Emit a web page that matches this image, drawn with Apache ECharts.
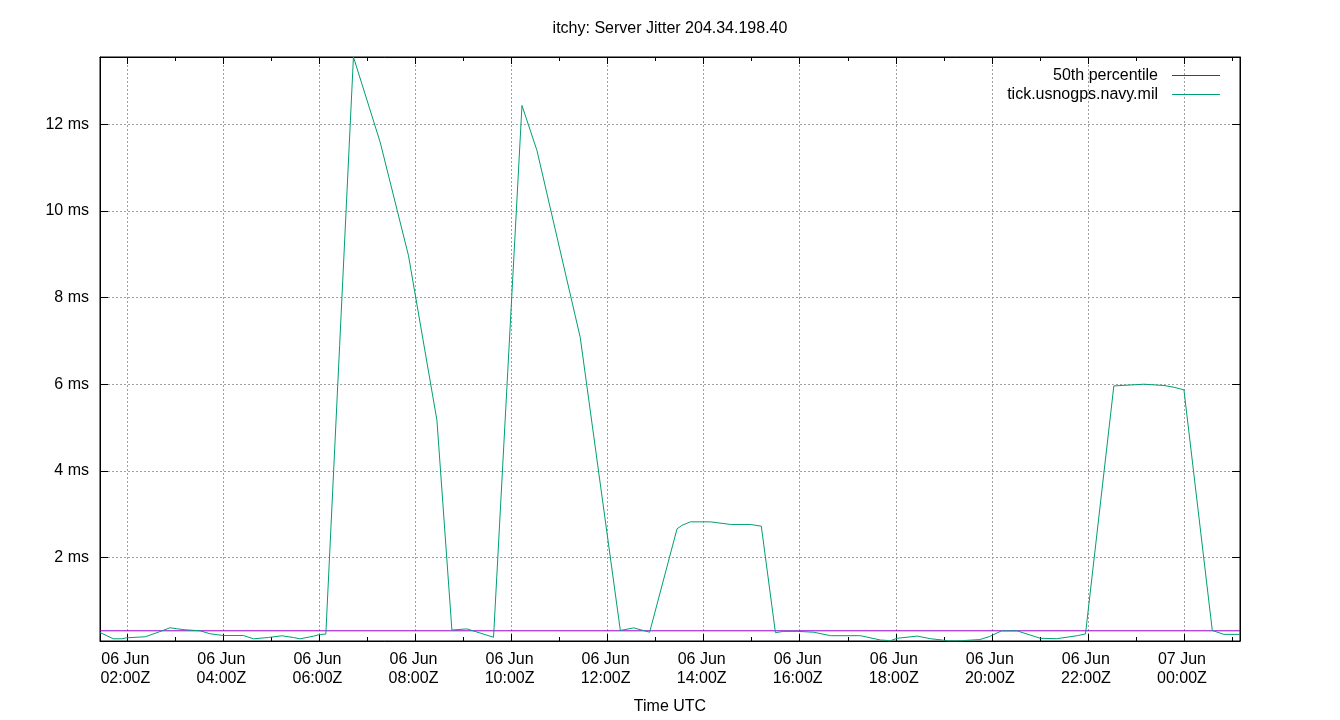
<!DOCTYPE html>
<html><head><meta charset="utf-8">
<script src="https://cdn.jsdelivr.net/npm/echarts@6/dist/echarts.min.js"></script>
<style>html,body{margin:0;padding:0;background:#fff}#c{width:1340px;height:720px}</style>
</head><body><div id="c"></div>
<script>
// Time of each sample, in hours since 06 Jun 00:00Z
const hoursSince06Jun = [
  1.431, 1.708, 1.883, 1.988, 2.369, 2.646, 2.890, 3.029, 3.202, 3.515,
  3.723, 4.000, 4.417, 4.625, 4.938, 5.217, 5.458, 5.598, 5.875, 6.015,
  6.133, 6.708, 7.265, 7.854, 8.446, 8.758, 9.071, 9.625, 10.217, 10.529,
  11.430, 12.265, 12.542, 12.875, 13.446, 13.550, 13.723, 14.140, 14.556, 14.973,
  15.200, 15.494, 15.667, 15.946, 16.292, 16.640, 17.265, 17.681, 17.821, 17.870,
  18.029, 18.446, 18.723, 18.967, 19.100, 19.380, 19.450, 19.750, 19.950, 20.200,
  20.530, 21.010, 21.350, 21.780, 21.950, 22.540, 22.690, 23.167, 23.583, 23.790,
  24.000, 24.590, 24.833, 25.167
];
// Server jitter, ms
const jitterMs = [
  0.264, 0.118, 0.118, 0.141, 0.164, 0.271, 0.373, 0.350, 0.326, 0.303,
  0.234, 0.194, 0.194, 0.118, 0.148, 0.188, 0.148, 0.118, 0.178, 0.218,
  0.227, 13.56, 11.59, 8.97, 5.17, 0.32, 0.347, 0.153, 12.44, 11.40,
  7.08, 0.31, 0.37, 0.27, 2.66, 2.74, 2.82, 2.82, 2.76, 2.76,
  2.72, 0.26, 0.29, 0.29, 0.27, 0.19, 0.19, 0.09, 0.08, 0.067,
  0.13, 0.18, 0.12, 0.09, 0.067, 0.07, 0.08, 0.10, 0.17, 0.30,
  0.30, 0.13, 0.12, 0.19, 0.23, 5.96, 5.97, 6.00, 5.97, 5.93,
  5.87, 0.31, 0.22, 0.22
];
const percentile50Ms = 0.303;
const seriesNames = ['50th percentile', 'tick.usnogps.navy.mil'];
const titleText = 'itchy: Server Jitter 204.34.198.40';
const xAxisTitle = 'Time UTC';
const monthLabel = 'Jun';
const baseDay = 6;

const FONT = '"Liberation Sans", Arial, sans-serif';
const pad = n => (n < 10 ? '0' : '') + n;
const xMin = hoursSince06Jun[0];
const xMax = hoursSince06Jun[hoursSince06Jun.length - 1];
const yMin = Math.min(...jitterMs);
const yMax = Math.max(...jitterMs);

function xLabel(v) {
  const r = Math.round(v);
  if (Math.abs(v - r) > 1e-6 || r % 2) return '';
  const d = baseDay + Math.floor(r / 24), h = r % 24;
  return pad(d) + ' ' + monthLabel + '\n' + pad(h) + ':00Z';
}
function yLabel(v) {
  const r = Math.round(v);
  if (Math.abs(v - r) > 1e-6) return '';
  return r + ' ms';
}
const grid = { left: 100, right: 100, top: 57, bottom: 79, show: true, borderColor: '#000', borderWidth: 1, backgroundColor: 'transparent' };
const splitLine = { show: true, lineStyle: { color: '#a0a0a0', width: 1, type: [2, 2] } };
const axisLine = { show: true, lineStyle: { color: '#000', width: 1 } };

const option = {
  animation: false,
  backgroundColor: '#fff',
  textStyle: { fontFamily: FONT },
  title: {
    text: titleText, left: 'center', top: 16,
    textStyle: { fontFamily: FONT, fontSize: 16, fontWeight: 'normal', color: '#000' }
  },
  legend: {
    orient: 'vertical', right: 115, top: 61, align: 'right',
    itemWidth: 48, itemHeight: 1, itemGap: 0, icon: 'rect',
    textStyle: { fontFamily: FONT, fontSize: 16, color: '#000', lineHeight: 19, padding: [0, 9, 0, 0] },
    data: seriesNames
  },
  grid: grid,
  xAxis: [{
    type: 'value', position: 'bottom', min: xMin, max: xMax, splitNumber: 12,
    axisLine: axisLine,
    axisTick: { show: true, inside: true, length: 7, lineStyle: { color: '#000' } },
    minorTick: { show: true, splitNumber: 2, length: 4, lineStyle: { color: '#000' } },
    splitLine: splitLine,
    axisLabel: { formatter: xLabel, showMinLabel: false, showMaxLabel: false, color: '#000', fontFamily: FONT, fontSize: 16, lineHeight: 19, margin: 9, padding: [0, 4, 0, 0] },
    name: xAxisTitle, nameLocation: 'middle', nameGap: 58,
    nameTextStyle: { fontFamily: FONT, fontSize: 16, color: '#000' }
  }, {
    type: 'value', position: 'top', min: xMin, max: xMax, splitNumber: 12,
    axisLine: axisLine,
    axisTick: { show: true, inside: true, length: 7, lineStyle: { color: '#000' } },
    minorTick: { show: true, splitNumber: 2, length: 4, lineStyle: { color: '#000' } },
    splitLine: { show: false }, axisLabel: { show: false }
  }],
  yAxis: [{
    type: 'value', position: 'left', min: yMin, max: yMax, splitNumber: 7,
    axisLine: axisLine,
    axisTick: { show: true, inside: true, length: 8, lineStyle: { color: '#000' } },
    splitLine: splitLine,
    axisLabel: { formatter: yLabel, showMinLabel: false, showMaxLabel: false, color: '#000', fontFamily: FONT, fontSize: 16, margin: 11 }
  }, {
    type: 'value', position: 'right', min: yMin, max: yMax, splitNumber: 7,
    axisLine: axisLine,
    axisTick: { show: true, inside: true, length: 8, lineStyle: { color: '#000' } },
    splitLine: { show: false }, axisLabel: { show: false }
  }],
  series: [{
    name: seriesNames[0], type: 'line', xAxisIndex: 0, yAxisIndex: 0,
    symbol: 'none', color: '#9400d3', lineStyle: { width: 1, color: '#9400d3' },
    data: [[xMin, percentile50Ms], [xMax, percentile50Ms]]
  }, {
    name: seriesNames[1], type: 'line', xAxisIndex: 0, yAxisIndex: 0,
    symbol: 'none', color: '#009e73', lineStyle: { width: 1, color: '#009e73' },
    data: hoursSince06Jun.map((t, i) => [t, jitterMs[i]])
  }]
};
const chart = echarts.init(document.getElementById('c'), null, { renderer: 'canvas' });
chart.setOption(option);
</script>
</body></html>
